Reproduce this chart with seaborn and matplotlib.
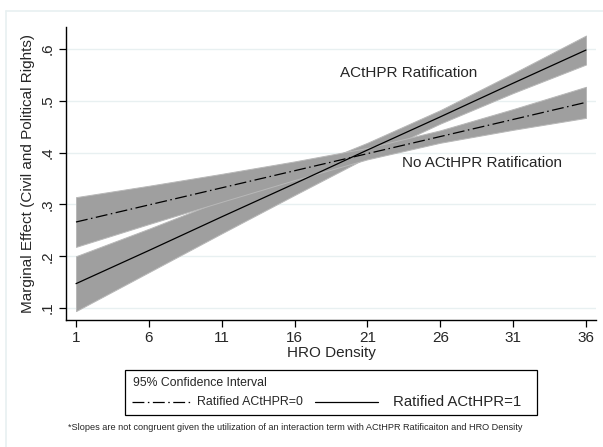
import pandas as pd
import matplotlib.pyplot as plt
import seaborn as sns
from matplotlib.lines import Line2D

# marginal effects
hro = [1, 6, 11, 16, 21, 26, 31, 36]
me_rat1 = [0.147, 0.211, 0.276, 0.340, 0.405, 0.469, 0.534, 0.598]
lo_rat1 = [0.094, 0.169, 0.244, 0.318, 0.391, 0.456, 0.515, 0.570]
hi_rat1 = [0.200, 0.253, 0.308, 0.362, 0.419, 0.482, 0.553, 0.626]
me_rat0 = [0.266, 0.299, 0.332, 0.365, 0.398, 0.431, 0.464, 0.497]
lo_rat0 = [0.218, 0.262, 0.305, 0.347, 0.387, 0.419, 0.444, 0.467]
hi_rat0 = [0.314, 0.336, 0.359, 0.383, 0.409, 0.443, 0.484, 0.527]
yticks = [0.1, 0.2, 0.3, 0.4, 0.5, 0.6]
ytick_labels = ['.1', '.2', '.3', '.4', '.5', '.6']

df = pd.DataFrame({'hro': hro + hro,
                   'me': me_rat0 + me_rat1,
                   'grp': ['Ratified ACtHPR=0'] * len(hro) + ['Ratified ACtHPR=1'] * len(hro)})

sns.set_style('white')
plt.rcParams['font.family'] = ['Liberation Sans', 'DejaVu Sans']

dash_dot = (0, (9.5, 2.8, 1.2, 2.8))
band = '#9f9f9f'
grid_c = '#e8f0f1'

fig = plt.figure(figsize=(6.03, 4.47), dpi=100)
ax = fig.add_axes([66 / 603, 1 - 320 / 447, 530 / 603, 293 / 447])

# outer graph frame (faint)
fig.add_artist(Line2D([6 / 603, 1], [1 - 11 / 447] * 2, color=grid_c, lw=1.2, transform=fig.transFigure))
fig.add_artist(Line2D([6 / 603] * 2, [0, 1 - 11 / 447], color=grid_c, lw=1.2, transform=fig.transFigure))

for y in yticks:
    ax.axhline(y, color=grid_c, lw=1.0, zorder=0)

ax.fill_between(hro, lo_rat1, hi_rat1, color=band, edgecolor='#b8b8b8', lw=0.7, zorder=1)
ax.fill_between(hro, lo_rat0, hi_rat0, color=band, edgecolor='#b8b8b8', lw=0.7, zorder=1)

sns.lineplot(data=df, x='hro', y='me', style='grp',
             dashes={'Ratified ACtHPR=0': dash_dot[1], 'Ratified ACtHPR=1': ''},
             color='black', linewidth=0.9, legend=False, ax=ax, zorder=3)

ax.set_xlim(1 - 10 / 14.57, 36 + 10 / 14.57)
ax.set_ylim(0.1 - 12 / 518, 0.6 + 22 / 518)
ax.set_xticks(list(range(1, 37, 5)))
ax.set_yticks(yticks)
ax.set_yticklabels(ytick_labels, rotation=90, va='center')
ax.tick_params(axis='both', which='both', direction='out', length=5, width=0.9,
               color='black', labelsize=11, left=True, bottom=True, pad=3)
for s in ['top', 'right']:
    ax.spines[s].set_visible(False)
for s in ['left', 'bottom']:
    ax.spines[s].set_color('black')
    ax.spines[s].set_linewidth(1.0)

ax.set_xlabel('HRO Density', fontsize=11, labelpad=1)
ax.set_ylabel('Marginal Effect (Civil and Political Rights)', fontsize=11, labelpad=4)

ax.text(19.1, 0.554, 'ACtHPR Ratification', fontsize=11, va='center', ha='left')
ax.text(23.4, 0.380, 'No ACtHPR Ratification', fontsize=11, va='center', ha='left')

# legend box drawn by hand
W, H = 603, 447
def fx(px):
    return px / W
def fy(py):
    return 1 - py / H

fig.add_artist(plt.Rectangle((fx(125), fy(415)), fx(412), 45 / H, fill=False,
                             edgecolor='black', lw=0.9, transform=fig.transFigure))
fig.text(fx(133), fy(383), '95% Confidence Interval', fontsize=8.8, va='center', ha='left')
fig.add_artist(Line2D([fx(132), fx(190)], [fy(402)] * 2, color='black', lw=0.9,
                      linestyle=dash_dot, transform=fig.transFigure))
fig.text(fx(197), fy(402), 'Ratified ACtHPR=0', fontsize=8.9, va='center', ha='left')
fig.add_artist(Line2D([fx(315), fx(378)], [fy(402)] * 2, color='black', lw=0.9,
                      transform=fig.transFigure))
fig.text(fx(393), fy(402), 'Ratified ACtHPR=1', fontsize=10.8, va='center', ha='left')

fig.text(fx(295), fy(428), '*Slopes are not congruent given the utilization of an interaction term '
         'with ACtHPR Ratificaiton and HRO Density', fontsize=6.6, va='center', ha='center')

fig.savefig('out.png', dpi=100)
